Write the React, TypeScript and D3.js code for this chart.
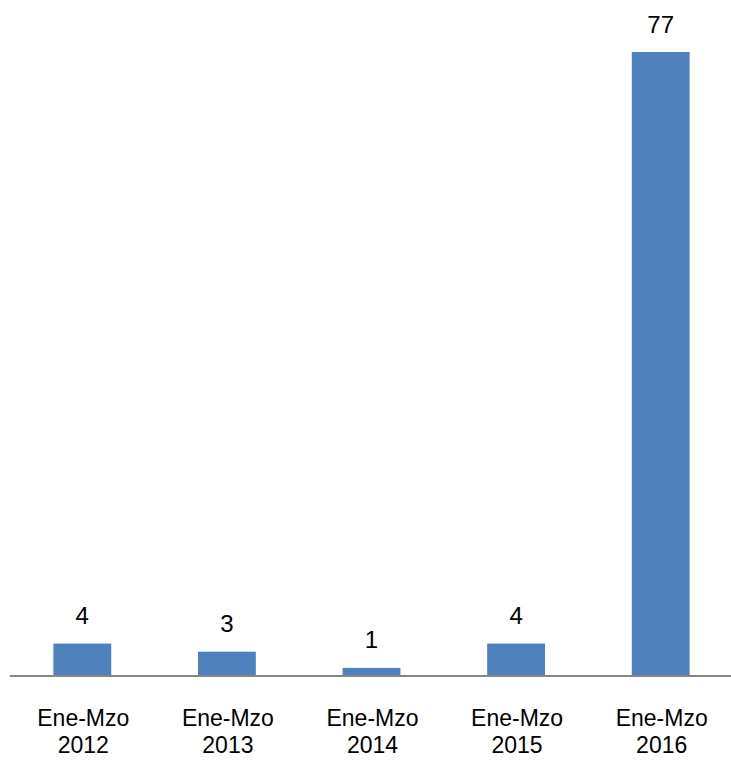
import React from "react";
import * as d3 from "d3";

const categoriesLine1 = ["Ene-Mzo", "Ene-Mzo", "Ene-Mzo", "Ene-Mzo", "Ene-Mzo"];
const categoriesLine2 = ["2012", "2013", "2014", "2015", "2016"];
const values = [4, 3, 1, 4, 77];

const W = 731;
const H = 763;

export default function App() {
  const keys = categoriesLine2;
  const x = d3.scaleBand<string>().domain(keys).range([10, 733]).paddingInner(0.6).paddingOuter(0.3);
  const y = d3.scaleLinear().domain([0, 77]).range([676, 52]);
  const font = "'Liberation Sans', Arial, sans-serif";
  return (
    <svg width={W} height={H} style={{ position: "absolute", left: 0, top: 0 }}>
      <rect x={0} y={0} width={W} height={H} fill="#fff" />
      {values.map((v, i) => (
        <rect
          key={i}
          x={x(keys[i])!}
          y={y(v)}
          width={x.bandwidth()}
          height={y(0) - y(v)}
          fill="#4F81BD"
        />
      ))}
      <line x1={10} x2={731} y1={y(0)} y2={y(0)} stroke="#868686" strokeWidth={2} />
      {values.map((v, i) => (
        <text
          key={"v" + i}
          x={x(keys[i])! + x.bandwidth() / 2}
          y={y(v) - 19.5}
          textAnchor="middle"
          fontFamily={font}
          fontSize={24}
          fill="#000"
        >
          {v}
        </text>
      ))}
      {keys.map((k, i) => (
        <text
          key={"c" + i}
          x={x(k)! + x.bandwidth() / 2 + 1}
          textAnchor="middle"
          fontFamily={font}
          fontSize={23}
          fill="#000"
        >
          <tspan x={x(k)! + x.bandwidth() / 2 + 1} y={726}>{categoriesLine1[i]}</tspan>
          <tspan x={x(k)! + x.bandwidth() / 2 + 1} y={753}>{categoriesLine2[i]}</tspan>
        </text>
      ))}
    </svg>
  );
}
